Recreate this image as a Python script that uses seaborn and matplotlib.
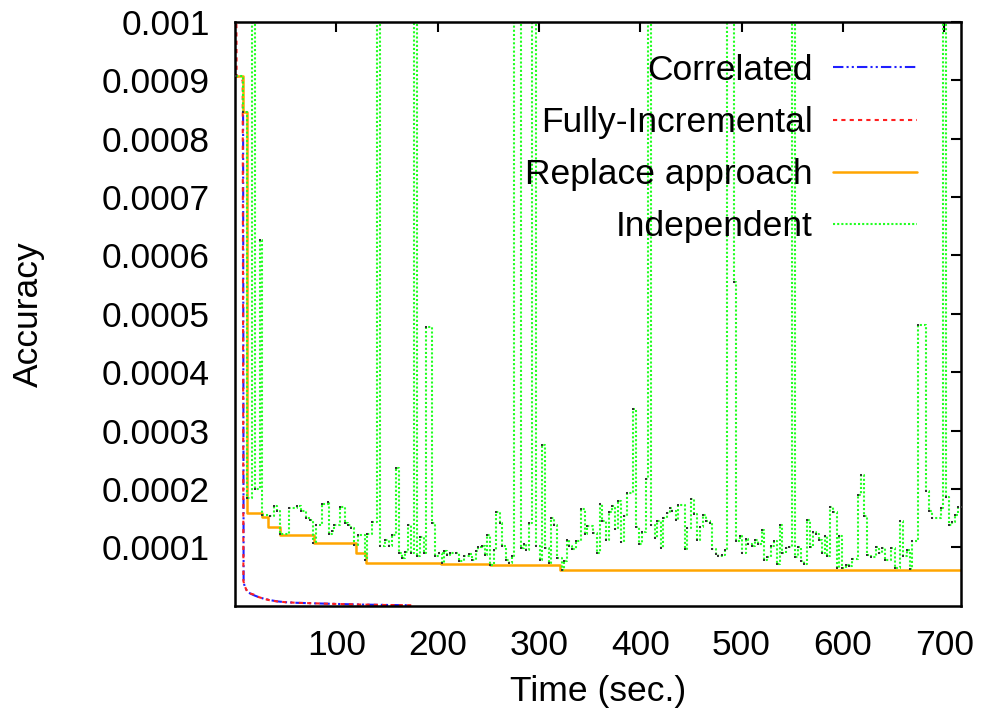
import numpy as np
import pandas as pd
import matplotlib
matplotlib.use("Agg")
import matplotlib.pyplot as plt
import seaborn as sns

# ---------------- data (accuracy values in units of 1e-4) ----------------
corr_t = [8.0, 8.5, 10, 12, 15, 18.6, 23, 28.4, 35, 41.5, 50, 61, 80, 101, 125, 150, 172]
corr_v = [8.4, 0.40, 0.31, 0.25, 0.21, 0.18, 0.15, 0.12, 0.095, 0.075, 0.06, 0.05, 0.04, 0.03, 0.02, 0.013, 0.008]

full_t = [1.0, 1.6, 7.6, 8.3, 10, 12, 15, 18.6, 23, 28.4, 35, 41.5, 50, 61, 80, 101, 125, 150, 175]
full_v = [12.0, 9.07, 9.0, 0.42, 0.32, 0.245, 0.21, 0.19, 0.15, 0.12, 0.09, 0.074, 0.06, 0.05, 0.04, 0.03, 0.02, 0.012, 0.008]

repl_t = [1, 8, 11.4, 26.9, 32.8, 44.9, 77.8, 119, 129.5, 203.8, 252, 321, 717]
repl_v = [9.07, 8.46, 1.58, 1.52, 1.34, 1.21, 1.07, 0.90, 0.74, 0.71, 0.69, 0.62, 0.62]

indep_t = [1, 8, 11.4, 17.2, 19.5, 24.5, 26.8, 34.4, 38.3, 41.6, 44.2, 53.1, 61.4, 64.7, 69.6,
           74.5, 77.2, 79.5, 86, 91.6, 92.6, 95.9, 97.6, 103.5, 108.4, 111.4, 115, 117.3, 121.6,
           128.2, 130.5, 135.4, 140.3, 143.6, 148, 151.9, 154.5, 159.1, 161.7, 165, 168.3, 170.6,
           174.2, 176.5, 179.8, 183.1, 186.4, 188.6, 194.6, 197.9, 201.2, 204.5, 206.1, 209.4,
           212.7, 217.7, 221, 225.9, 230.9, 234.2, 237.4, 240.1, 243.4, 246.6, 249, 252.2, 255.5,
           257.8, 261.1, 263.8, 267.1, 270.4, 273, 275.4, 281.9, 285.1, 287.7, 290, 293.4, 296.7,
           301, 303.3, 305.6, 309.8, 312.1, 314.7, 318, 323, 324.6, 327.3, 329.6, 332.9, 336.2,
           341.8, 345.1, 347.8, 353.6, 356.9, 359.9, 362.5, 365.8, 369.1, 372.4, 375, 378, 381.3,
           384, 387.3, 392.9, 396.2, 398.8, 402.1, 405.4, 407.7, 411, 414.3, 416.9, 420.2, 422.9,
           426.2, 429.5, 431.6, 434.9, 437.5, 443.8, 446.4, 449.7, 453, 456.3, 458.9, 461.9, 465.2,
           468.5, 471.1, 474.4, 477, 480.3, 483.3, 486, 492.6, 494.9, 498.2, 500.8, 504.1, 506.7,
           510, 513.3, 516.6, 519.9, 522.3, 525.6, 528.9, 532.2, 534.8, 537.8, 540.4, 543.7, 547,
           549.6, 552.6, 555.9, 558.5, 561.8, 564.5, 567.8, 570.7, 573.1, 576.4, 579.7, 582, 584.6,
           587.2, 590.5, 593.8, 596.1, 599.4, 602.7, 605.9, 608.6, 614.8, 618.1, 620.8, 624.1,
           627.4, 633, 635.6, 638.9, 641.3, 647.8, 651.1, 656.4, 659.7, 663, 666, 668.6, 674.2,
           681.8, 685.1, 688.4, 696.6, 698.9, 702.2, 704.9, 708.2, 710.8, 714.1, 717]
indep_v = [9.07, 8.46, 1.85, 15, 2.0, 6.27, 1.56, 1.54, 1.70, 1.62, 1.22, 1.68, 1.70, 1.62, 1.50,
           1.47, 1.07, 1.38, 1.74, 1.77, 1.22, 1.28, 1.38, 1.69, 1.42, 1.38, 1.33, 1.04, 1.21,
           0.79, 1.22, 1.44, 15, 1.02, 1.13, 1.03, 1.21, 2.36, 0.90, 0.82, 0.92, 1.39,
           0.90, 15, 0.85, 1.18, 0.90, 4.77, 1.42, 0.85, 0.91, 0.73, 0.93, 0.87,
           0.91, 0.90, 0.76, 0.85, 0.89, 0.79, 0.93, 1.00, 1.03, 0.87, 1.21, 0.70, 0.96,
           1.60, 1.42, 1.02, 0.79, 0.73, 0.85, 15, 0.99, 1.05, 0.95, 1.42, 15, 1.03,
           0.79, 2.76, 0.99, 0.74, 1.50, 1.38, 0.82, 0.62, 0.76, 1.13, 1.03, 0.97, 1.10,
           1.65, 1.22, 1.36, 1.25, 0.90, 1.75, 1.45, 1.12, 1.60, 1.70, 1.32, 1.79, 1.09,
           1.53, 1.93, 3.37, 1.34, 1.05, 1.26, 2.17, 15, 1.38, 1.16, 1.45, 0.98, 1.50,
           1.59, 1.67, 1.62, 1.46, 1.72, 0.97, 1.33, 1.83, 1.57, 1.13, 1.35, 1.56, 1.45,
           1.42, 0.97, 0.89, 0.85, 0.86, 0.96, 15, 5.55, 1.11, 1.20, 0.90, 1.14, 1.06,
           1.03, 1.13, 1.06, 1.29, 0.79, 0.83, 1.03, 1.10, 0.72, 1.39, 0.90, 0.99, 1.00,
           15, 0.83, 1.01, 0.76, 0.72, 1.46, 1.00, 1.26, 1.23, 1.12, 0.90, 1.19, 0.85,
           1.69, 1.60, 0.65, 1.19, 0.65, 0.70, 0.68, 0.80, 1.89, 2.24, 1.54, 0.86,
           0.83, 1.00, 0.90, 0.99, 0.79, 0.99, 0.65, 1.45, 0.85, 0.95, 0.63, 1.10, 4.8,
           1.97, 1.62, 1.50, 1.68, 15, 1.86, 1.39, 1.43, 1.56, 1.69, 1.69]

series_labels = ["Correlated", "Fully-Incremental", "Replace approach", "Independent"]
xtick_vals = [100, 200, 300, 400, 500, 600, 700]
ytick_vals = [0.0001, 0.0002, 0.0003, 0.0004, 0.0005, 0.0006, 0.0007, 0.0008, 0.0009, 0.001]
ytick_labels = ["0.0001", "0.0002", "0.0003", "0.0004", "0.0005", "0.0006", "0.0007",
                "0.0008", "0.0009", "0.001"]

SCALE = 1e-4

def frame(t, v):
    return pd.DataFrame({"t": t, "acc": np.array(v) * SCALE})

sns.set_theme(style="white")
plt.rcParams["font.family"] = ["Liberation Sans", "DejaVu Sans"]
plt.rcParams["text.color"] = "black"
plt.rcParams["axes.labelcolor"] = "black"

FS = 25.5

fig = plt.figure(figsize=(9.82, 7.17), dpi=100)
ax = fig.add_axes([0.2393, 0.1552, 0.979 - 0.2393, 0.9697 - 0.1552])

sns.lineplot(data=frame(corr_t, corr_v), x="t", y="acc", ax=ax, color="#1f1fff",
             lw=1.5, linestyle=(0, (5, 1.5, 1, 1.5, 1, 1.5)), label=series_labels[0],
             sort=False, estimator=None)
sns.lineplot(data=frame(full_t, full_v), x="t", y="acc", ax=ax, color="#ff2020",
             lw=1.5, linestyle=(0, (2, 2)), label=series_labels[1], sort=False, estimator=None)
sns.lineplot(data=frame(repl_t, repl_v), x="t", y="acc", ax=ax, color="#ffa500",
             lw=1.8, drawstyle="steps-post", label=series_labels[2], sort=False, estimator=None)
sns.lineplot(data=frame(indep_t, indep_v), x="t", y="acc", ax=ax, color="#22ff22",
             lw=1.5, linestyle=(0, (1, 1)), drawstyle="steps-post", label=series_labels[3],
             sort=False, estimator=None)
sns.scatterplot(data=frame(indep_t, indep_v), x="t", y="acc", ax=ax, color="#333333",
                s=3, marker="s", linewidth=0, legend=False, zorder=5)

ax.set_xlim(0, 717)
ax.set_ylim(0, 0.001)
ax.set_xticks(xtick_vals)
ax.set_xticklabels([str(v) for v in xtick_vals])
ax.set_yticks(ytick_vals)
ax.set_yticklabels(ytick_labels)

for sp in ax.spines.values():
    sp.set_visible(True)
    sp.set_color("black")
    sp.set_linewidth(1.8)

ax.tick_params(axis="both", direction="in", length=7, width=1.5, color="black",
               top=True, right=True, labelsize=FS, labelcolor="black")
ax.tick_params(axis="y", pad=18)
ax.tick_params(axis="x", pad=17)

ax.set_xlabel("Time (sec.)", fontsize=FS, color="black")
ax.set_ylabel("Accuracy", fontsize=FS, color="black")
ax.xaxis.set_label_coords(0.4997, -0.118)
ax.yaxis.set_label_coords(-0.262, 0.50)

handles, labels = ax.get_legend_handles_labels()
leg = ax.legend(handles[:4], labels[:4], loc="upper right", bbox_to_anchor=(0.9394, 0.945),
                markerfirst=False, frameon=False, fontsize=FS, handlelength=2.37,
                handletextpad=0.59, labelspacing=0.54, borderaxespad=0, borderpad=0)

fig.savefig("out.png", dpi=100)
